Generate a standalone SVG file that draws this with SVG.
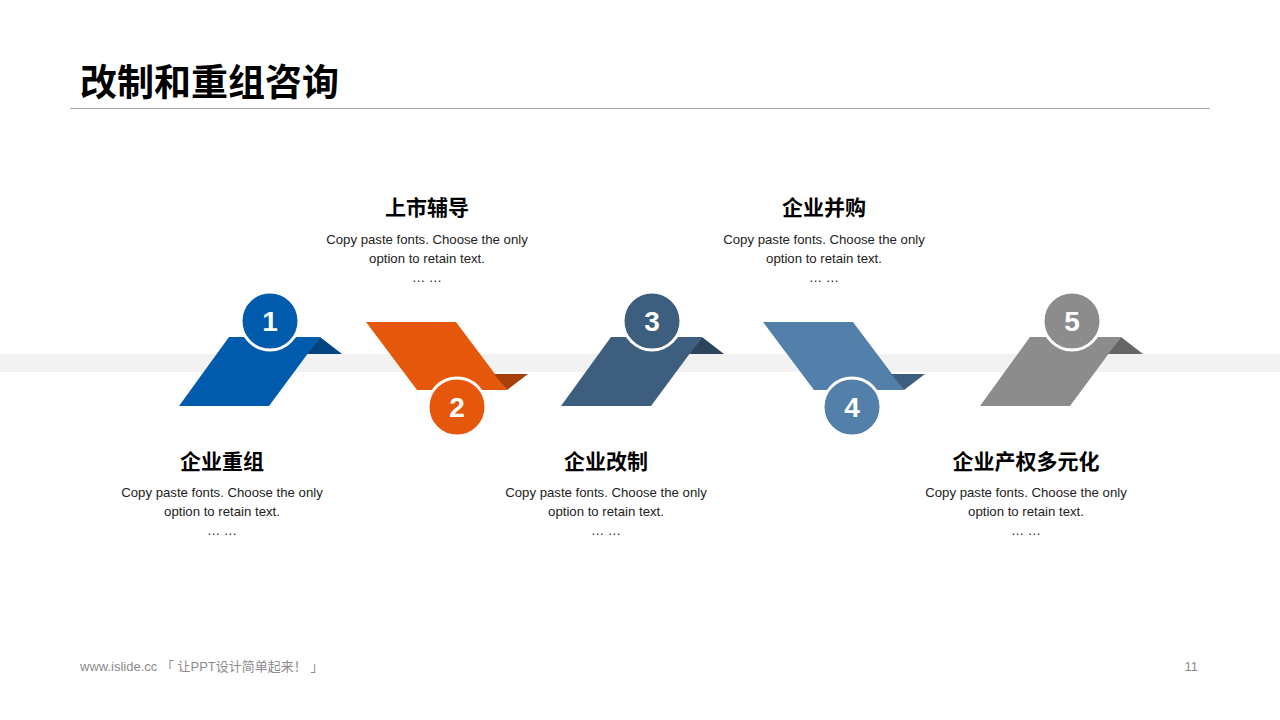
<svg xmlns="http://www.w3.org/2000/svg" width="1280" height="720" viewBox="0 0 1280 720">
<style>
.title{font-family:"Liberation Sans","Noto Sans CJK SC",sans-serif;font-size:37px;font-weight:bold;fill:#000}
.head{font-family:"Liberation Sans","Noto Sans CJK SC",sans-serif;font-size:21px;font-weight:bold;fill:#000;text-anchor:middle}
.body{font-family:"Liberation Sans","Noto Sans CJK SC",sans-serif;font-size:13.2px;fill:#222;text-anchor:middle}
.num{font-family:"Liberation Sans",sans-serif;font-size:28px;font-weight:bold;fill:#fff;text-anchor:middle}
.foot{font-family:"Liberation Sans","Noto Sans CJK SC",sans-serif;font-size:13px;fill:#8c8c8c}
.ring{stroke:#fff;stroke-width:3}
</style>
<rect width="1280" height="720" fill="#fff"/>
<text class="title" x="80" y="96">改制和重组咨询</text>
<line x1="70" y1="108.5" x2="1210" y2="108.5" stroke="#a6a6a6" stroke-width="1"/>
<rect id="band" x="0" y="354" width="1280" height="18" fill="#f2f2f2"/>

<g id="step1">
<polygon points="229,337 320,337 269,406 179,406" fill="#005bac"/>
<polygon points="320,337 342,354 307,354" fill="#00447f"/>
<circle class="ring" cx="270" cy="321" r="29" fill="#005bac"/>
<text class="num" x="270" y="331">1</text>
<text class="head" x="222" y="469">企业重组</text>
<text class="body" x="222" y="497">Copy paste fonts. Choose the only</text>
<text class="body" x="222" y="516">option to retain text.</text>
<text class="body" x="222" y="535">… …</text>
</g>

<g id="step2">
<polygon points="366,322 456,322 507,390 417,390" fill="#e5580c"/>
<polygon points="494,374 528,374 507,390" fill="#a83e08"/>
<circle class="ring" cx="457" cy="407" r="29" fill="#e5580c"/>
<text class="num" x="457" y="417">2</text>
<text class="head" x="427" y="215">上市辅导</text>
<text class="body" x="427" y="244">Copy paste fonts. Choose the only</text>
<text class="body" x="427" y="263">option to retain text.</text>
<text class="body" x="427" y="282">… …</text>
</g>

<g id="step3">
<polygon points="611,337 702,337 651,406 561,406" fill="#3d5e7f"/>
<polygon points="702,337 724,354 689,354" fill="#2c455e"/>
<circle class="ring" cx="652" cy="321" r="29" fill="#3d5e7f"/>
<text class="num" x="652" y="331">3</text>
<text class="head" x="606" y="469">企业改制</text>
<text class="body" x="606" y="497">Copy paste fonts. Choose the only</text>
<text class="body" x="606" y="516">option to retain text.</text>
<text class="body" x="606" y="535">… …</text>
</g>

<g id="step4">
<polygon points="763,322 853,322 904,390 814,390" fill="#5280ab"/>
<polygon points="891,374 925,374 904,390" fill="#3c5f80"/>
<circle class="ring" cx="852" cy="407" r="29" fill="#5280ab"/>
<text class="num" x="852" y="417">4</text>
<text class="head" x="824" y="215">企业并购</text>
<text class="body" x="824" y="244">Copy paste fonts. Choose the only</text>
<text class="body" x="824" y="263">option to retain text.</text>
<text class="body" x="824" y="282">… …</text>
</g>

<g id="step5">
<polygon points="1030,337 1121,337 1070,406 980,406" fill="#8c8c8c"/>
<polygon points="1121,337 1143,354 1108,354" fill="#666"/>
<circle class="ring" cx="1072" cy="321" r="29" fill="#8c8c8c"/>
<text class="num" x="1072" y="331">5</text>
<text class="head" x="1026" y="469">企业产权多元化</text>
<text class="body" x="1026" y="497">Copy paste fonts. Choose the only</text>
<text class="body" x="1026" y="516">option to retain text.</text>
<text class="body" x="1026" y="535">… …</text>
</g>

<g id="connectors"></g>

<text class="foot" x="80" y="671">www.islide.cc 「 让PPT设计简单起来！ 」</text>
<text class="foot" x="1198" y="671" text-anchor="end">11</text>
</svg>
